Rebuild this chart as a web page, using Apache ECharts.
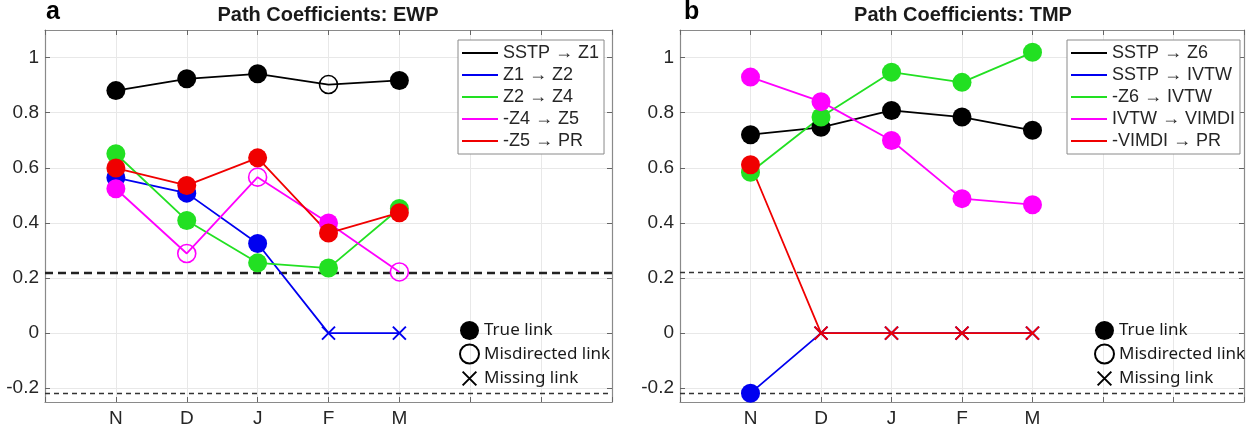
<!DOCTYPE html>
<html>
<head>
<meta charset="utf-8">
<script src="https://cdn.jsdelivr.net/npm/echarts@6/dist/echarts.min.js"></script>
<style>
  html, body { margin: 0; padding: 0; background: #fff; }
  #chart { width: 1247px; height: 430px; }
</style>
</head>
<body>
<div id="chart"></div>
<script>
// categories and ticks
const months = ['N', 'D', 'J', 'F', 'M'];
const monthPos = [1, 2, 3, 4, 5];
const yTicks = [-0.2, 0, 0.2, 0.4, 0.6, 0.8, 1];
const thresholdValues = [0.22, -0.22];

// panel a: EWP  (T = true link, M = misdirected, X = missing)
const ewpNames = ['SSTP \u2192 Z1', 'Z1 \u2192 Z2', 'Z2 \u2192 Z4', '-Z4 \u2192 Z5', '-Z5 \u2192 PR'];
const ewpSstpZ1 = [0.880, 0.923, 0.941, 0.902, 0.917];
const ewpZ1Z2 = [0.564, 0.508, 0.325, 0, 0];
const ewpZ2Z4 = [0.651, 0.409, 0.255, 0.236, 0.452];
const ewpZ4Z5 = [0.524, 0.289, 0.566, 0.400, 0.222];
const ewpZ5Pr = [0.599, 0.536, 0.636, 0.363, 0.437];
const ewpSstpZ1Links = ['T', 'T', 'T', 'M', 'T'];
const ewpZ1Z2Links = ['T', 'T', 'T', 'X', 'X'];
const ewpZ2Z4Links = ['T', 'T', 'T', 'T', 'T'];
const ewpZ4Z5Links = ['T', 'M', 'M', 'T', 'M'];
const ewpZ5PrLinks = ['T', 'T', 'T', 'T', 'T'];

// panel b: TMP
const tmpNames = ['SSTP \u2192 Z6', 'SSTP \u2192 IVTW', '-Z6 \u2192 IVTW', 'IVTW \u2192 VIMDI', '-VIMDI \u2192 PR'];
const tmpSstpZ6 = [0.720, 0.747, 0.808, 0.784, 0.736];
const tmpSstpIvtw = [-0.218, 0, 0, 0, 0];
const tmpZ6Ivtw = [0.584, 0.784, 0.947, 0.910, 1.019];
const tmpIvtwVimdi = [0.929, 0.840, 0.699, 0.488, 0.466];
const tmpVimdiPr = [0.611, 0, 0, 0, 0];
const tmpSstpZ6Links = ['T', 'T', 'T', 'T', 'T'];
const tmpSstpIvtwLinks = ['T', 'X', 'X', 'X', 'X'];
const tmpZ6IvtwLinks = ['T', 'T', 'T', 'T', 'T'];
const tmpIvtwVimdiLinks = ['T', 'T', 'T', 'T', 'T'];
const tmpVimdiPrLinks = ['T', 'X', 'X', 'X', 'X'];

const markerNames = ['True link', 'Misdirected link', 'Missing link'];

const colors = ['#000000', '#0000f0', '#22e022', '#ff00ff', '#f00000'];
const crossPath = 'path://M0,0L10,10M10,0L0,10';
const legendCross = 'path://M0,0L0,0.01M18,18L18,18.01M2.5,2.5L15.5,15.5M15.5,2.5L2.5,15.5';
const sans = '"Liberation Sans", Arial, sans-serif';
const axisGray = '#8a8a8a';
const textColor = '#262626';

const pointItem = function (v, i, link, color) {
  const item = { value: [monthPos[i], v] };
  if (link === 'T') {
    item.symbol = 'circle';
    item.symbolSize = 19;
    item.itemStyle = { color, borderWidth: 0 };
  } else if (link === 'M') {
    item.symbol = 'circle';
    item.symbolSize = 18;
    item.itemStyle = { color: 'rgba(0,0,0,0)', borderColor: color, borderWidth: 1.6 };
  } else {
    item.symbol = crossPath;
    item.symbolSize = 13;
    item.itemStyle = { color: 'rgba(0,0,0,0)', borderColor: color, borderWidth: 2 };
  }
  return item;
};

const makeSeries = function (name, values, links, color, axis) {
  return {
    type: 'line',
    name,
    xAxisIndex: axis,
    yAxisIndex: axis,
    lineStyle: { color, width: 1.8 },
    itemStyle: { color },
    emphasis: { disabled: true },
    data: values.map((v, i) => pointItem(v, i, links[i], color)),
  };
};

const thresholdLine = function (axis, thickTop) {
  return {
    type: 'line',
    name: 'threshold' + axis,
    xAxisIndex: axis,
    yAxisIndex: axis,
    data: [],
    silent: true,
    markLine: {
      silent: true,
      symbol: 'none',
      label: { show: false },
      z: 1,
      data: thresholdValues.map((v, i) => ({
        yAxis: v,
        lineStyle: (thickTop && i === 0)
          ? { color: '#222', width: 2.4, type: [8, 5] }
          : { color: '#333', width: 1.4, type: [5, 4] },
      })),
    },
  };
};

const grids = [
  { left: 45, top: 30, width: 567, height: 372 },
  { left: 680, top: 30, width: 566, height: 372 },
];

const xAxisBase = function (grid, position, labels) {
  return {
    type: 'value',
    gridIndex: grid,
    position,
    min: 0,
    max: 8,
    interval: 1,
    axisLine: { show: true, onZero: false, lineStyle: { color: axisGray, width: 1.2 } },
    axisTick: { show: true, inside: true, length: 5, lineStyle: { color: '#666' } },
    axisLabel: {
      show: labels,
      margin: 7,
      fontSize: 19,
      fontFamily: sans,
      color: textColor,
      formatter: v => months[monthPos.indexOf(v)] || '',
    },
    splitLine: { show: labels, lineStyle: { color: '#e8e8e8', width: 1 } },
  };
};

const yAxisBase = function (grid, position, labels) {
  return {
    type: 'value',
    gridIndex: grid,
    position,
    min: -0.25,
    max: 1.1,
    axisLine: { show: true, onZero: false, lineStyle: { color: axisGray, width: 1.2 } },
    axisTick: { show: true, inside: true, length: 5, customValues: yTicks, lineStyle: { color: '#666' } },
    axisLabel: {
      show: labels,
      customValues: yTicks,
      margin: 6,
      fontSize: 19,
      fontFamily: sans,
      color: textColor,
    },
    splitLine: { show: labels, lineStyle: { color: '#e8e8e8', width: 1 } },
  };
};

const lineLegend = function (names, left) {
  return {
    orient: 'vertical',
    left,
    top: 40,
    selectedMode: false,
    icon: 'rect',
    itemWidth: 36,
    itemHeight: 2,
    itemGap: 4,
    padding: [4, 5, 4, 4],
    borderColor: '#8a8a8a',
    borderWidth: 1,
    backgroundColor: '#fff',
    textStyle: { fontSize: 18, lineHeight: 18, fontFamily: sans, color: textColor },
    data: names.map((n, i) => ({ name: n, itemStyle: { color: colors[i], borderWidth: 0 } })),
  };
};

const markerLegend = function (left) {
  return {
    orient: 'vertical',
    left,
    top: 321,
    selectedMode: false,
    itemWidth: 19,
    itemHeight: 19,
    itemGap: 3.5,
    padding: 0,
    textStyle: { fontSize: 17, lineHeight: 19, fontFamily: '"Noto Sans", sans-serif', color: '#1a1a1a' },
    data: [
      { name: markerNames[0], icon: 'circle', itemStyle: { color: '#000', borderWidth: 0 } },
      { name: markerNames[1], icon: 'circle', itemStyle: { color: 'rgba(0,0,0,0)', borderColor: '#000', borderWidth: 2 } },
      { name: markerNames[2], icon: legendCross, itemStyle: { color: 'rgba(0,0,0,0)', borderColor: '#000', borderWidth: 2 } },
    ],
  };
};

const ewpValues = [ewpSstpZ1, ewpZ1Z2, ewpZ2Z4, ewpZ4Z5, ewpZ5Pr];
const ewpLinks = [ewpSstpZ1Links, ewpZ1Z2Links, ewpZ2Z4Links, ewpZ4Z5Links, ewpZ5PrLinks];
const tmpValues = [tmpSstpZ6, tmpSstpIvtw, tmpZ6Ivtw, tmpIvtwVimdi, tmpVimdiPr];
const tmpLinks = [tmpSstpZ6Links, tmpSstpIvtwLinks, tmpZ6IvtwLinks, tmpIvtwVimdiLinks, tmpVimdiPrLinks];

const series = [thresholdLine(0, true), thresholdLine(1, false)];
ewpNames.forEach((n, i) => series.push(makeSeries(n, ewpValues[i], ewpLinks[i], colors[i], 0)));
tmpNames.forEach((n, i) => series.push(makeSeries(n, tmpValues[i], tmpLinks[i], colors[i], 1)));
markerNames.forEach(n => series.push({
  type: 'line', name: n, xAxisIndex: 0, yAxisIndex: 0, data: [], itemStyle: { color: '#000' },
}));

const chart = echarts.init(document.getElementById('chart'));
chart.setOption({
  animation: false,
  backgroundColor: '#fff',
  title: [
    { text: 'Path Coefficients: EWP', left: 328, top: 5, padding: 0, textAlign: 'center',
      textStyle: { fontSize: 20, fontWeight: 'bold', fontFamily: sans, color: '#1a1a1a' } },
    { text: 'Path Coefficients: TMP', left: 963, top: 5, padding: 0, textAlign: 'center',
      textStyle: { fontSize: 20, fontWeight: 'bold', fontFamily: sans, color: '#1a1a1a' } },
    { text: 'a', left: 46, top: 0, padding: 0,
      textStyle: { fontSize: 25, fontWeight: 'bold', fontFamily: sans, color: '#000' } },
    { text: 'b', left: 684, top: 0, padding: 0,
      textStyle: { fontSize: 25, fontWeight: 'bold', fontFamily: sans, color: '#000' } },
  ],
  grid: grids,
  xAxis: [xAxisBase(0, 'bottom', true), xAxisBase(1, 'bottom', true), xAxisBase(0, 'top', false), xAxisBase(1, 'top', false)],
  yAxis: [yAxisBase(0, 'left', true), yAxisBase(1, 'left', true), yAxisBase(0, 'right', false), yAxisBase(1, 'right', false)],
  legend: [lineLegend(ewpNames, 458), lineLegend(tmpNames, 1067), markerLegend(459), markerLegend(1094)],
  series,
});
</script>
</body>
</html>
